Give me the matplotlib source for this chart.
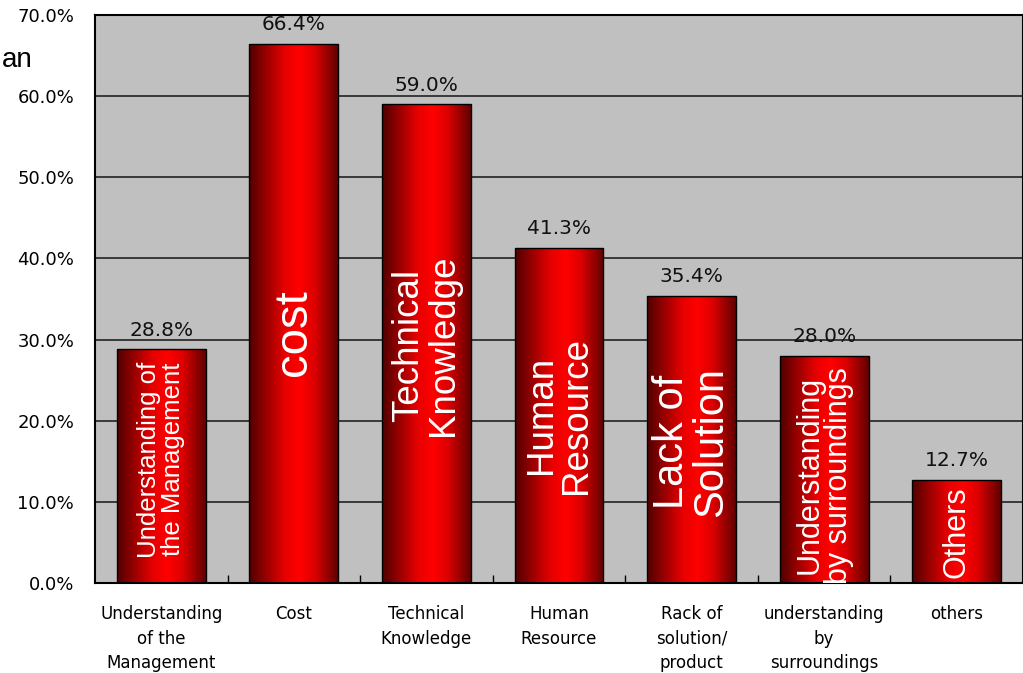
import numpy as np
import matplotlib
matplotlib.use("Agg")
from matplotlib import pyplot as plt
from matplotlib.colors import LinearSegmentedColormap

categories = ["Understanding\nof the\nManagement", "Cost", "Technical\nKnowledge",
              "Human\nResource", "Rack of\nsolution/\nproduct",
              "understanding\nby\nsurroundings", "others"]
values = [28.8, 66.4, 59.0, 41.3, 35.4, 28.0, 12.7]
inner_labels = ["Understanding of\nthe Management", "cost", "Technical\nKnowledge",
                "Human\nResource", "Lack of\nSolution",
                "Understanding\nby surroundings", "Others"]
inner_sizes = [18.5, 34, 26.5, 26.5, 30, 22, 22]
inner_pos = [15.2, 30.8, 29.3, 20.7, 17.4, 13.3, 6.3]

fig = plt.figure(figsize=(10.23, 6.73), dpi=100)
ax = fig.add_axes([95 / 1023, 1 - 583 / 673, 1 - 95 / 1023, (583 - 15) / 673])
ax.set_facecolor("#c0c0c0")

x = np.arange(len(values))
bars = ax.bar(x, values, width=0.67, color="none", edgecolor="black", linewidth=1, zorder=3)

# cylinder-like horizontal gradient inside every bar
cmap = LinearSegmentedColormap.from_list("cyl", [(0, "#500000"), (0.4, "#e60000"),
                                                 (0.57, "#ff0000"), (0.74, "#dc0000"),
                                                 (1, "#600000")])
grad = np.linspace(0, 1, 256).reshape(1, -1)
for b in bars:
    im = ax.imshow(grad, cmap=cmap, aspect="auto", zorder=2,
                   extent=[b.get_x(), b.get_x() + b.get_width(), 0, b.get_height()])
    im.set_clip_path(b)

for i, v in enumerate(values):
    ax.annotate(f"{v:.1f}%", (i, v), xytext=(0, 7), textcoords="offset points",
                ha="center", va="bottom", fontsize=14.5, color="#111111", zorder=4)
    ax.text(i, inner_pos[i], inner_labels[i], rotation=90, ha="center", va="center",
            multialignment="center", linespacing=1.0, color="white",
            fontsize=inner_sizes[i], family="Liberation Sans", zorder=4)

ax.set_xlim(-0.5, len(values) - 0.5)
ax.set_ylim(0, 70)
ax.set_yticks(np.arange(0, 71, 10))
ax.set_yticklabels([f"{t:.1f}%" for t in np.arange(0, 71, 10)], fontsize=13)
ax.yaxis.grid(True, color="#222222", linewidth=1.2, zorder=1)
ax.set_axisbelow(True)
ax.tick_params(axis="y", length=0, pad=15)

ax.set_xticks(x)
ax.set_xticklabels(categories, fontsize=12, linespacing=1.45)
ax.set_xticks(np.arange(0.5, len(values) - 0.5, 1), minor=True)
ax.tick_params(axis="x", which="major", length=0, pad=16)
ax.tick_params(axis="x", which="minor", direction="in", length=6, width=1)

for s in ax.spines.values():
    s.set_color("black")
    s.set_linewidth(1.5)

fig.text(2 / 1023, 1 - 67 / 673, "an", ha="left", va="baseline", fontsize=20,
         family="Liberation Sans")

fig.savefig("out.png", dpi=100)
